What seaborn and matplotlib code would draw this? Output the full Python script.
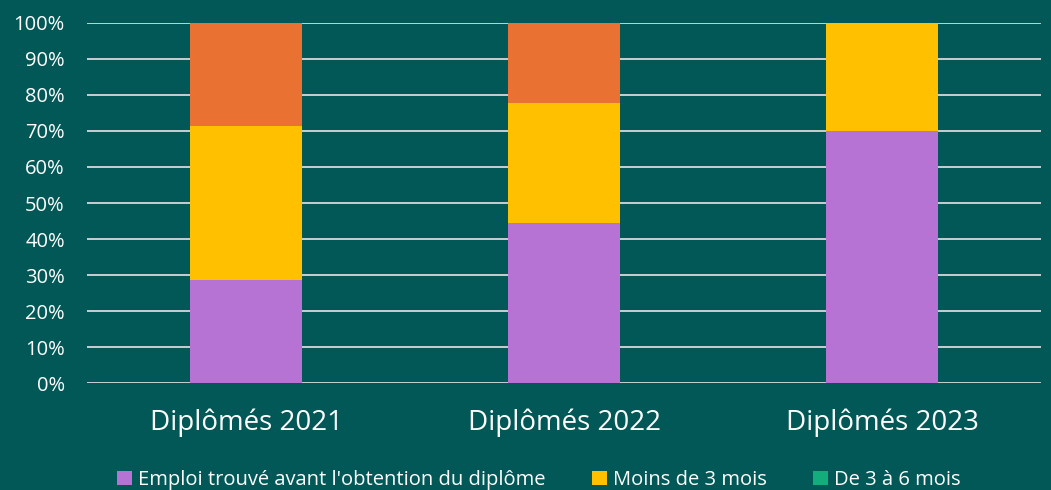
import pandas as pd
import seaborn as sns
import matplotlib.pyplot as plt
import numpy as np
from matplotlib.ticker import PercentFormatter
from matplotlib.patches import Patch

# Data (shares)
years = ['Diplômés 2021', 'Diplômés 2022', 'Diplômés 2023']
avant = [0.286, 0.444, 0.70]
moins_3 = [0.429, 0.333, 0.30]
de_3_6 = [0.0, 0.0, 0.0]
plus_6 = [0.285, 0.223, 0.0]

series = ["Emploi trouvé avant l'obtention du diplôme", 'Moins de 3 mois',
          'De 3 à 6 mois', 'Plus de 6 mois']
colors = ['#B673D4', '#FFC000', '#13AD7B', '#E97132']

bg = '#015857'
sns.set_style('white')
plt.rcParams['font.family'] = ['Open Sans', 'DejaVu Sans']

df = pd.DataFrame({'year': years, series[0]: avant, series[1]: moins_3,
                   series[2]: de_3_6, series[3]: plus_6})
cum = df[series].cumsum(axis=1)

fig = plt.figure(figsize=(10.51, 4.9), dpi=100, facecolor=bg)
ax = fig.add_axes([87 / 1051, 1 - 383 / 490, 954 / 1051, 360 / 490])
ax.set_facecolor(bg)
ax.set_axisbelow(True)

# stacked bars: draw cumulative totals from the top layer down
for s, c in reversed(list(zip(series, colors))):
    sns.barplot(x=df['year'], y=cum[s], color=c, width=0.352,
                saturation=1, linewidth=0, ax=ax)

ax.set_ylim(0, 1)
ax.set_xlim(-0.5, 2.5)
ax.set_yticks(np.arange(0, 1.01, 0.1))
ax.yaxis.set_major_formatter(PercentFormatter(1.0, decimals=0))
ax.grid(axis='y', color='#D9D9D9', linewidth=1.3)
ax.grid(axis='x', visible=False)
for sp in ax.spines.values():
    sp.set_visible(False)
ax.tick_params(axis='y', length=0, pad=16, labelsize=14.5, labelcolor='white')
ax.tick_params(axis='x', length=0, pad=18, labelsize=20, labelcolor='white')
ax.set_xlabel('')
ax.set_ylabel('')

# only the first legend row is visible in the reference
handles = [Patch(facecolor=c, edgecolor='none', label=s)
           for s, c in zip(series[:3], colors[:3])]
fig.legend(handles=handles, ncol=3, loc='lower left',
           bbox_to_anchor=(117 / 1051, 0), frameon=False,
           fontsize=14.5, labelcolor='white', handlelength=0.75,
           handleheight=0.75, handletextpad=0.3, columnspacing=2.3,
           borderaxespad=0, borderpad=0)

fig.savefig('out.png', dpi=100, facecolor=bg)
